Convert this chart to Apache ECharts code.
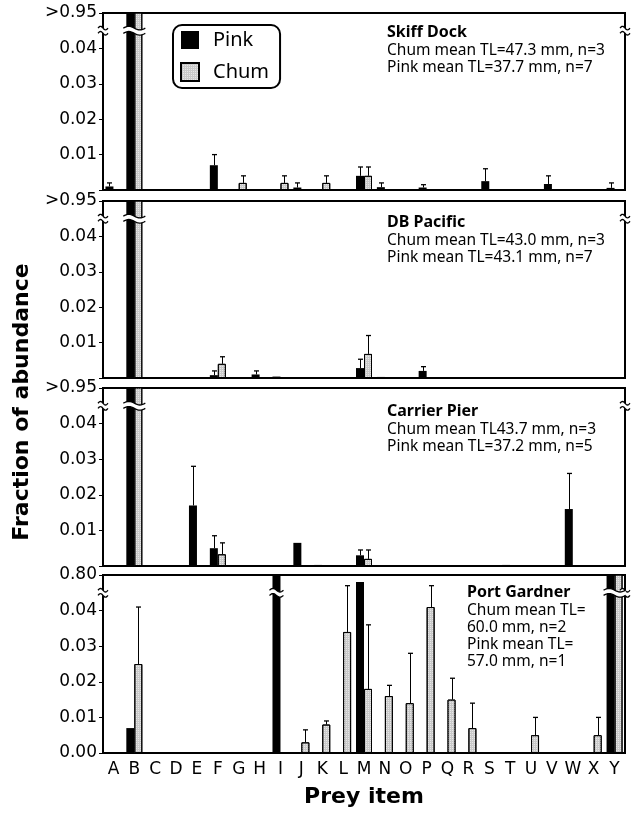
<!DOCTYPE html>
<html><head><meta charset="utf-8">
<script src="https://cdn.jsdelivr.net/npm/echarts@6/dist/echarts.min.js"></script>
<style>html,body{margin:0;padding:0;background:#fff}#c{width:634px;height:818px}</style>
</head><body><div id="c"></div>
<script>
// ---------- data ----------
const categories = ['A','B','C','D','E','F','G','H','I','J','K','L','M','N','O','P','Q','R','S','T','U','V','W','X','Y'];
const topLabels = ['>0.95','>0.95','>0.95','0.80'];
const breakLevel = 0.045;
const panelNames = ['Skiff Dock','DB Pacific','Carrier Pier','Port Gardner'];
const panelNotes = [
  'Chum mean TL=47.3 mm, n=3\nPink mean TL=37.7 mm, n=7',
  'Chum mean TL=43.0 mm, n=3\nPink mean TL=43.1 mm, n=7',
  'Chum mean TL43.7 mm, n=3\nPink mean TL=37.2 mm, n=5',
  'Chum mean TL=\n60.0 mm, n=2\nPink mean TL=\n57.0 mm, n=1'
];
const _ = null;
// Skiff Dock
const pink1    = [0.001,0.96,_,_,_,0.007,_,_,_,0.0007,_,_,0.004,0.0008,_,0.0007,_,_,0.0025,_,_,0.0017,_,_,0.0006];
const pink1Err = [0.001,_,_,_,_,0.003,_,_,_,0.0013,_,_,0.0025,0.0012,_,0.0008,_,_,0.0035,_,_,0.0023,_,_,0.0014];
const chum1    = [_,0.96,_,_,_,_,0.002,_,0.002,_,0.002,_,0.004,_,_,_,_,_,_,_,_,_,_,_,_];
const chum1Err = [_,_,_,_,_,_,0.002,_,0.002,_,0.002,_,0.0025,_,_,_,_,_,_,_,_,_,_,_,_];
// DB Pacific
const pink2    = [_,0.96,_,_,_,0.0008,_,0.001,0.0004,_,_,_,0.0028,0.0003,_,0.002,_,_,_,_,_,_,_,_,_];
const pink2Err = [_,_,_,_,_,0.0012,_,0.001,_,_,_,_,0.0025,_,_,0.0012,_,_,_,_,_,_,_,_,_];
const chum2    = [_,0.96,_,_,_,0.004,_,_,_,_,_,_,0.0068,_,_,_,_,_,_,_,_,_,_,_,_];
const chum2Err = [_,_,_,_,_,0.002,_,_,_,_,_,_,0.0052,_,_,_,_,_,_,_,_,_,_,_,_];
// Carrier Pier
const pink3    = [_,0.96,_,_,0.017,0.005,_,_,_,0.0065,0.0003,_,0.003,_,_,_,_,_,_,0.0003,_,_,0.016,_,_];
const pink3Err = [_,_,_,_,0.011,0.0035,_,_,_,_,_,_,0.0015,_,_,_,_,_,_,_,_,_,0.010,_,_];
const chum3    = [_,0.96,_,_,_,0.0033,_,_,_,_,_,_,0.002,_,_,_,_,_,_,_,_,_,_,_,_];
const chum3Err = [_,_,_,_,_,0.0032,_,_,_,_,_,_,0.0025,_,_,_,_,_,_,_,_,_,_,_,_];
// Port Gardner
const pink4    = [_,0.007,_,_,_,_,_,_,0.85,_,_,_,0.048,_,_,_,_,_,_,_,_,_,_,_,0.85];
const pink4Err = [_,_,_,_,_,_,_,_,_,_,_,_,_,_,_,_,_,_,_,_,_,_,_,_,_];
const chum4    = [_,0.025,_,_,_,_,_,_,_,0.003,0.008,0.034,0.018,0.016,0.014,0.041,0.015,0.007,_,_,0.005,_,_,0.005,0.85];
const chum4Err = [_,0.016,_,_,_,_,_,_,_,0.0035,0.001,0.013,0.018,0.003,0.014,0.006,0.006,0.007,_,_,0.005,_,_,0.005,_];

const pinkSets = [pink1,pink2,pink3,pink4];
const pinkErrSets = [pink1Err,pink2Err,pink3Err,pink4Err];
const chumSets = [chum1,chum2,chum3,chum4];
const chumErrSets = [chum1Err,chum2Err,chum3Err,chum4Err];

// ---------- layout / style ----------
const gridTops = [13, 201, 388, 575];
const gridHeights = [177, 177, 178, 178];
const titleLeft = [387, 387, 387, 467];
const titleTops = [23, 213, 402, 583];
const BAR_W = 8;
const AX_MAX = 0.05;
const numFont = 'DejaVu Sans';
const txtFont = 'Noto Sans';

function wave(x0, x1, yc) {
  const n = 16, pts = [];
  for (let k = 0; k <= n; k++) {
    const t = k / n;
    pts.push([x0 + (x1 - x0) * t, yc - 1.8 * Math.sin(t * 2 * Math.PI)]);
  }
  return pts;
}
function breakShape(x0, x1, yc) {
  const up = wave(x0, x1, yc - 2.6), dn = wave(x0, x1, yc + 2.6);
  return [
    {type: 'polygon', shape: {points: up.concat(dn.slice().reverse())}, style: {fill: '#fff', stroke: null}},
    {type: 'polyline', shape: {points: up}, style: {stroke: '#000', lineWidth: 1.3, fill: null}},
    {type: 'polyline', shape: {points: dn}, style: {stroke: '#000', lineWidth: 1.3, fill: null}}
  ];
}

function renderErr(params, api) {
  const i = api.value(0), v = api.value(1), e = api.value(2), side = api.value(3);
  const base = api.coord([i, v]);
  const top = api.coord([i, v + e]);
  const x = Math.round(base[0] + side * BAR_W / 2) + 0.5;
  return {type: 'group', children: [
    {type: 'line', shape: {x1: x, y1: base[1], x2: x, y2: top[1]}, style: {stroke: '#000', lineWidth: 1}},
    {type: 'line', shape: {x1: x - 2.5, y1: top[1], x2: x + 2.5, y2: top[1]}, style: {stroke: '#000', lineWidth: 1.3}}
  ]};
}

function renderBreak(params, api) {
  const kind = api.value(0), i = api.value(1), lb = api.value(2), rb = api.value(3);
  const cs = params.coordSys;
  const yc = api.coord([0, breakLevel])[1];
  if (kind === 1) return {type: 'group', children: breakShape(cs.x - 5, cs.x + 5, yc)};
  if (kind === 2) return {type: 'group', children: breakShape(cs.x + cs.width - 5, cs.x + cs.width + 5, yc)};
  const c = api.coord([i, 0])[0];
  const x0 = lb ? c - BAR_W - 3 : c - 3;
  const x1 = rb ? c + BAR_W + 3 : c + 3;
  return {type: 'group', children: breakShape(x0, x1, yc)};
}

const grid = [], xAxis = [], yAxis = [], series = [], title = [];
for (let k = 0; k < 4; k++) {
  grid.push({left: 103, right: 9, top: gridTops[k], height: gridHeights[k], show: true, borderColor: '#000', borderWidth: 2, backgroundColor: 'transparent'});
  xAxis.push({
    type: 'category', gridIndex: k, data: categories, boundaryGap: true,
    axisLine: {show: true, lineStyle: {color: '#000', width: 2}},
    axisTick: {show: false},
    axisLabel: {show: k === 3, fontFamily: numFont, fontSize: 17, color: '#000', margin: 8, interval: 0},
    name: k === 3 ? 'Prey item' : '', nameLocation: 'middle', nameGap: 33,
    nameTextStyle: {fontFamily: numFont, fontWeight: 'bold', fontSize: 22, color: '#000'}
  });
  yAxis.push({
    type: 'value', gridIndex: k, min: 0, max: AX_MAX, interval: 0.01,
    axisLine: {show: true, lineStyle: {color: '#000', width: 2}},
    axisTick: {show: true, length: 4, lineStyle: {color: '#000', width: 1}},
    splitLine: {show: false},
    axisLabel: {
      fontFamily: numFont, fontSize: 17, color: '#000', margin: 6,
      formatter: (v) => {
        if (Math.abs(v - AX_MAX) < 1e-9) return topLabels[k];
        if (v === 0) return k === 3 ? '0.00' : '';
        return v.toFixed(2);
      }
    }
  });
  title.push({
    text: panelNames[k], subtext: panelNotes[k], left: titleLeft[k], top: titleTops[k],
    padding: 0, itemGap: 0,
    textStyle: {fontFamily: txtFont, fontWeight: 'bold', fontSize: 16, color: '#000', lineHeight: 19},
    subtextStyle: {fontFamily: txtFont, fontSize: 15.5, color: '#000', lineHeight: 17}
  });
  const pinkV = pinkSets[k], chumV = chumSets[k];
  series.push({
    type: 'bar', name: 'Pink', xAxisIndex: k, yAxisIndex: k, data: pinkV,
    barWidth: BAR_W, barGap: '0%', clip: true,
    itemStyle: {color: '#000'}
  });
  series.push({
    type: 'bar', name: 'Chum', xAxisIndex: k, yAxisIndex: k, data: chumV,
    barWidth: BAR_W, barGap: '0%', clip: true,
    itemStyle: {color: '#c9c9c9', borderColor: '#000', borderWidth: 1,
      decal: {symbol: 'rect', symbolSize: 1, dashArrayX: [1, 1], dashArrayY: [1, 1], color: 'rgba(255,255,255,0.55)'}}
  });
  const errData = [];
  categories.forEach((c, i) => {
    if (pinkV[i] != null && pinkErrSets[k][i] != null) errData.push([i, pinkV[i], pinkErrSets[k][i], -1]);
    if (chumV[i] != null && chumErrSets[k][i] != null) errData.push([i, chumV[i], chumErrSets[k][i], 1]);
  });
  series.push({
    type: 'custom', name: 'err' + k, xAxisIndex: k, yAxisIndex: k, data: errData,
    renderItem: renderErr, encode: {x: 0, y: 1}, z: 5, silent: true
  });
  const brData = [[1, 0, 0, 0], [2, 0, 0, 0]];
  categories.forEach((c, i) => {
    const lb = pinkV[i] != null && pinkV[i] > AX_MAX ? 1 : 0;
    const rb = chumV[i] != null && chumV[i] > AX_MAX ? 1 : 0;
    if (lb || rb) brData.push([0, i, lb, rb]);
  });
  series.push({
    type: 'custom', name: 'brk' + k, xAxisIndex: k, yAxisIndex: k, data: brData,
    renderItem: renderBreak, z: 10, silent: true, clip: false
  });
}

const chart = echarts.init(document.getElementById('c'), null, {renderer: 'canvas'});
chart.setOption({
  animation: false,
  backgroundColor: '#fff',
  title: title,
  legend: {
    data: ['Pink', 'Chum'], left: 173, top: 25, orient: 'vertical',
    borderColor: '#000', borderWidth: 2, borderRadius: 9, padding: [5, 11, 6, 7],
    itemWidth: 18, itemHeight: 18, itemGap: 12, backgroundColor: '#fff', icon: 'rect',
    textStyle: {fontFamily: txtFont, fontSize: 20, color: '#000', padding: [0, 0, 0, 9]}
  },
  grid: grid, xAxis: xAxis, yAxis: yAxis, series: series,
  graphic: [{
    type: 'text', x: 22, y: 402, rotation: Math.PI / 2,
    style: {text: 'Fraction of abundance', font: 'bold 22px "DejaVu Sans"', fill: '#000',
      align: 'center', verticalAlign: 'middle', textAlign: 'center', textVerticalAlign: 'middle'}
  }]
});
</script></body></html>
